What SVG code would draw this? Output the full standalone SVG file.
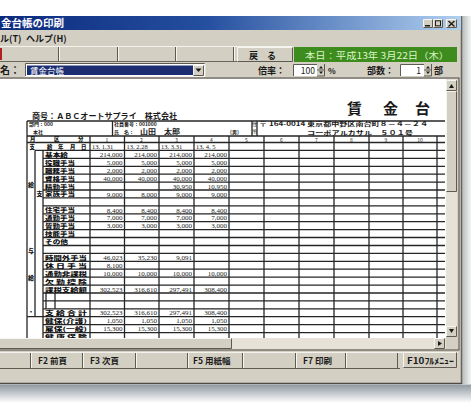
<svg xmlns="http://www.w3.org/2000/svg" width="471" height="403" viewBox="0 0 471 403">
<defs>
<linearGradient id="tbg" x1="0" y1="0" x2="1" y2="0">
<stop offset="0" stop-color="#0c2a7e"/><stop offset="0.45" stop-color="#254f9f"/><stop offset="1" stop-color="#b0d0f0"/>
</linearGradient>
<linearGradient id="shd" x1="0" y1="0" x2="0" y2="1">
<stop offset="0" stop-color="#8e98a0"/><stop offset="1" stop-color="#ffffff"/>
</linearGradient>
<linearGradient id="rsh" x1="0" y1="0" x2="1" y2="0">
<stop offset="0" stop-color="#b8bcbc"/><stop offset="1" stop-color="#f4f4f4"/>
</linearGradient>
<clipPath id="pv"><rect x="0" y="79" width="446" height="259"/></clipPath>
<style>
text{font-family:"Noto Sans CJK JP","Liberation Sans",sans-serif}
.btn{fill:#d3cfc3}
.hl{fill:none;stroke:#f7f5ef;stroke-width:1}
.dk{fill:none;stroke:#5e5a52;stroke-width:1}
.ui{font-size:9px;fill:#1a1a1a;font-weight:700}
.fk{font-size:8.5px;fill:#1a1a1a;font-weight:700}
.grid{fill:none;stroke:#262626;stroke-width:1.3}
.lbl{font-size:5.4px;font-weight:900;fill:#111}
.lc{font-size:6px;font-weight:900;fill:#111}
.num{font-family:"Liberation Serif","Noto Sans CJK JP",serif;font-size:7px;fill:#1a1a1a;text-anchor:end}
.dt{font-family:"Liberation Serif","Noto Sans CJK JP",serif;font-size:6.5px;fill:#1a1a1a}
.hd{font-size:5px;fill:#1a1a1a;text-anchor:middle}
.sm{font-size:5px;fill:#1a1a1a;font-weight:700}
.arr{fill:#1a1a1a}
</style>
</defs>

<rect x="0" y="0" width="471" height="403" fill="#ffffff"/>

<g id="window">
<rect x="-2" y="16" width="463" height="368" fill="#d3cfc3"/>
<rect x="462" y="16" width="9" height="368" fill="url(#rsh)"/>
<line x1="461.5" y1="16" x2="461.5" y2="384" stroke="#6a665e" stroke-width="1.5"/>
<line x1="-2" y1="383.5" x2="462" y2="383.5" stroke="#4e4a44" stroke-width="1.5"/>
<rect x="0" y="384.5" width="471" height="18.5" fill="url(#shd)"/>
</g>

<g id="titlebar">
<rect x="-2" y="16" width="463" height="14" fill="url(#tbg)"/>
<text x="1" y="27" font-size="10.5" font-weight="700" fill="#ffffff">金台帳の印刷</text>
<rect x="423" y="19" width="10" height="9" class="btn"/>
<path class="hl" d="M423.5 27.5V19.5H432.5"/><path class="dk" d="M423.5 27.5H432.5V19.5"/>
<rect x="425" y="25" width="5" height="1.5" class="arr"/>
<rect x="433" y="19" width="10" height="9" class="btn"/>
<path class="hl" d="M433.5 27.5V19.5H442.5"/><path class="dk" d="M433.5 27.5H442.5V19.5"/>
<rect x="435.5" y="20.8" width="5" height="5" fill="none" stroke="#1a1a1a" stroke-width="1"/>
<rect x="446" y="19" width="11" height="9" class="btn"/>
<path class="hl" d="M446.5 27.5V19.5H456.5"/><path class="dk" d="M446.5 27.5H456.5V19.5"/>
<path d="M448.5 21L454.5 26.5M454.5 21L448.5 26.5" stroke="#1a1a1a" stroke-width="1.4"/>
</g>

<g id="menubar">
<text x="0" y="42" class="ui" font-weight="400">ル(T)</text>
<text x="26" y="42" class="ui" font-weight="400">ヘルプ(H)</text>
</g>

<g id="toolbar">
<line x1="-2" y1="46.5" x2="293" y2="46.5" stroke="#f4f2ec"/>
<line x1="-2" y1="61.5" x2="293" y2="61.5" stroke="#6a665e"/>
<rect x="0" y="48" width="2" height="12" fill="#b0201c"/>
<path class="dk" d="M58.5 47V61M117.5 47V61M175.5 47V61M233.5 47V61"/>
<path class="hl" d="M59.5 47V61M118.5 47V61M176.5 47V61M234.5 47V61"/>
<rect x="237" y="47" width="56" height="15" class="btn"/>
<path class="hl" d="M237.5 61.5V47.5H292.5"/><path class="dk" d="M237.5 61.5H292.5V47.5"/>
<text x="249" y="58.5" class="ui">戻　る</text>
<rect x="294" y="47" width="163" height="15" fill="#3e8c1e"/>
<text x="305" y="58.5" font-size="9" fill="#dcf6c6" textLength="144" lengthAdjust="spacingAndGlyphs">本日：平成13年 3月22日（木）</text>
</g>

<g id="options">
<text x="0" y="74" font-size="10" font-weight="700" fill="#1a1a1a">名：</text>
<rect x="25" y="63.5" width="180" height="13" fill="#ffffff"/>
<path class="dk" d="M25.5 76V63.5H205"/><path class="hl" d="M25.5 76.5H205V63.5"/>
<rect x="27" y="65.5" width="166" height="9.5" fill="#1c2d72"/>
<text x="30" y="73.5" font-size="8.5" fill="#ffffff">賃金台帳</text>
<rect x="193" y="65" width="11" height="10.5" class="btn"/>
<path class="hl" d="M193.5 75V65.5H203.5"/><path class="dk" d="M193.5 75.5H203.5V65.5"/>
<path d="M195.5 68.5H201.5L198.5 72Z" class="arr"/>

<text x="258" y="74" class="ui">倍率：</text>
<rect x="293" y="64" width="24" height="12" fill="#ffffff"/>
<path class="dk" d="M293.5 76V64.5H317"/>
<text x="315" y="73.5" font-size="8.5" fill="#1a1a1a" text-anchor="end">100</text>
<rect x="317" y="64" width="8" height="12" class="btn"/>
<path class="dk" d="M317 70H325M324.5 64V76H317"/>
<path d="M319 68.5H323L321 66Z M319 71.5H323L321 74Z" class="arr"/>
<text x="328" y="74" font-size="8" font-weight="700" fill="#1a1a1a">%</text>

<text x="367" y="74" class="ui">部数：</text>
<rect x="400" y="64" width="24" height="12" fill="#ffffff"/>
<path class="dk" d="M400.5 76V64.5H424"/>
<text x="421" y="73.5" font-size="8.5" fill="#1a1a1a" text-anchor="end">1</text>
<rect x="424" y="64" width="8" height="12" class="btn"/>
<path class="dk" d="M424 70H432M431.5 64V76H424"/>
<path d="M426 68.5H430L428 66Z M426 71.5H430L428 74Z" class="arr"/>
<text x="434" y="74" class="ui">部</text>
</g>

<g id="preview">
<rect x="-2" y="78" width="461" height="272" fill="none" stroke="#4e4a44" stroke-width="1"/>
<rect x="0" y="79" width="446" height="259" fill="#ffffff"/>

<g id="page" clip-path="url(#pv)">
<text x="347" y="114" font-size="15" font-weight="700" fill="#1a1a1a">賃</text>
<text x="383" y="114" font-size="15" font-weight="700" fill="#1a1a1a">金</text>
<text x="415" y="114" font-size="15" font-weight="700" fill="#1a1a1a">台</text>
<text x="32" y="119" font-size="8" font-weight="700" fill="#1a1a1a" textLength="145" lengthAdjust="spacingAndGlyphs">商号：ＡＢＣオートサプライ　株式会社</text>

<g id="grid">
<path class="grid" stroke-width="1.6" d="M27 121H445"/>
<path class="grid" d="M27 136H445M27 142.5H445M35 150.4H445M27 316.7H445"/>
<path class="grid" d="M43 158.3H445M43 166.3H445M43 174.2H445M43 182.1H445M43 190H445M43 197.9H445M43 205.9H445M43 213.8H445M43 221.7H445M43 229.6H445M43 237.5H445M43 245.5H445M43 253.4H445M43 261.3H445M43 269.2H445M43 277.1H445M43 285.1H445M43 293H445M43 300.9H445M43 308.8H445M43 324.7H445M43 332.6H445"/>
<path class="grid" d="M27 121V340M35 150.4V316.7M43 150.4V340M112.5 121V136M252 121V136M257 121V136"/>
<path class="grid" d="M90 136V340M124.5 136V340M159 136V340M194 136V340M229 136V340M264 136V340M299 136V340M334 136V340M369 136V340M403 136V340M437 136V340"/>
<path class="grid" stroke-width="0.8" d="M46 293V308.8M55 293V308.8"/>
</g>

<g id="header">
<text x="29" y="126" class="sm">部門：000</text>
<text x="33" y="133.5" class="sm">本社</text>
<text x="114" y="126" class="sm">社員番号：001000</text>
<text x="114" y="133.5" class="sm">氏　名：</text>
<text x="140" y="134" font-size="6.5" font-weight="700" fill="#1a1a1a" textLength="40" lengthAdjust="spacingAndGlyphs">山田　太郎</text>
<text x="230" y="133.5" class="sm">(男)</text>
<text x="254.5" y="126.3" class="hd" font-size="4.5">住</text>
<text x="254.5" y="133.2" class="hd" font-size="4.5">所</text>
<text x="259" y="126" font-size="5.5" font-weight="700" fill="#1a1a1a" textLength="169" lengthAdjust="spacingAndGlyphs">〒 164-0014 東京都中野区南台町８－４－２４</text>
<text x="307" y="135" font-size="6" font-weight="700" fill="#1a1a1a" textLength="106" lengthAdjust="spacingAndGlyphs">コーポアルカサル　５０１号</text>
<text x="30" y="141.2" class="lbl">月</text>
<text x="54" y="141.2" class="lbl">区</text>
<text x="78" y="141.2" class="lbl">分</text>
<text x="107" y="142" class="hd">1</text>
<text x="141.5" y="142" class="hd">2</text>
<text x="176.5" y="142" class="hd">3</text>
<text x="211.5" y="142" class="hd">4</text>
<text x="246.5" y="142" class="hd">5</text>
<text x="281.5" y="142" class="hd">6</text>
<text x="316.5" y="142" class="hd">7</text>
<text x="351.5" y="142" class="hd">8</text>
<text x="386" y="142" class="hd">9</text>
<text x="420" y="142" class="hd">10</text>
</g>

<g id="labels">
<text x="29.5" y="149.1" class="lbl">支</text>
<text x="47" y="149.1" class="lbl">給</text>
<text x="58" y="149.1" class="lbl">年</text>
<text x="70" y="149.1" class="lbl">月</text>
<text x="81" y="149.1" class="lbl">日</text>
<text x="28" y="187" class="lc">給</text>
<text x="36.5" y="196" class="lc">支</text>
<text x="28" y="253" class="lc">与</text>
<text x="28" y="280" class="lc">給</text>
<text x="28" y="314" class="lc">・</text>
<text x="45" y="156.8" class="lbl" textLength="23" lengthAdjust="spacingAndGlyphs">基本給</text>
<text x="45" y="164.7" class="lbl" textLength="30" lengthAdjust="spacingAndGlyphs">役職手当</text>
<text x="45" y="172.7" class="lbl" textLength="30" lengthAdjust="spacingAndGlyphs">職務手当</text>
<text x="45" y="180.6" class="lbl" textLength="30" lengthAdjust="spacingAndGlyphs">資格手当</text>
<text x="45" y="188.5" class="lbl" textLength="30" lengthAdjust="spacingAndGlyphs">精勤手当</text>
<text x="45" y="196.4" class="lbl" textLength="30" lengthAdjust="spacingAndGlyphs">家族手当</text>
<text x="45" y="212.3" class="lbl" textLength="30" lengthAdjust="spacingAndGlyphs">住宅手当</text>
<text x="45" y="220.2" class="lbl" textLength="30" lengthAdjust="spacingAndGlyphs">通勤手当</text>
<text x="45" y="228.1" class="lbl" textLength="30" lengthAdjust="spacingAndGlyphs">皆勤手当</text>
<text x="45" y="236" class="lbl" textLength="30" lengthAdjust="spacingAndGlyphs">技能手当</text>
<text x="45" y="243.9" class="lbl" textLength="23" lengthAdjust="spacingAndGlyphs">その他</text>
<text x="45" y="259.8" class="lbl" textLength="42" lengthAdjust="spacingAndGlyphs">時間外手当</text>
<text x="45" y="267.7" class="lbl" textLength="42" lengthAdjust="spacingAndGlyphs">休 日 手 当</text>
<text x="45" y="275.6" class="lbl" textLength="42" lengthAdjust="spacingAndGlyphs">通勤非課税</text>
<text x="45" y="283.5" class="lbl" textLength="42" lengthAdjust="spacingAndGlyphs">欠 勤 控 除</text>
<text x="45" y="291.5" class="lbl" textLength="42" lengthAdjust="spacingAndGlyphs">課税支給額</text>
<text x="45" y="315.2" class="lbl" textLength="42" lengthAdjust="spacingAndGlyphs">支 給 合 計</text>
<text x="45" y="323.1" class="lbl" textLength="42" lengthAdjust="spacingAndGlyphs">健保(介護)</text>
<text x="45" y="331.1" class="lbl" textLength="42" lengthAdjust="spacingAndGlyphs">雇保(一般)</text>
<text x="45" y="339" class="lbl" textLength="42" lengthAdjust="spacingAndGlyphs">健 康 保 険</text>
</g>

<g id="values">
<text x="92" y="148.8" class="dt">13. 1.31</text>
<text x="126.5" y="148.8" class="dt">13. 2.28</text>
<text x="161" y="148.8" class="dt">13. 3.31</text>
<text x="196" y="148.8" class="dt">13. 4. 5</text>

<text x="122.5" y="157" class="num">214,000</text><text x="157" y="157" class="num">214,000</text><text x="192" y="157" class="num">214,000</text><text x="227" y="157" class="num">214,000</text>
<text x="122.5" y="164.9" class="num">5,000</text><text x="157" y="164.9" class="num">5,000</text><text x="192" y="164.9" class="num">5,000</text><text x="227" y="164.9" class="num">5,000</text>
<text x="122.5" y="172.9" class="num">2,000</text><text x="157" y="172.9" class="num">2,000</text><text x="192" y="172.9" class="num">2,000</text><text x="227" y="172.9" class="num">2,000</text>
<text x="122.5" y="180.8" class="num">40,000</text><text x="157" y="180.8" class="num">40,000</text><text x="192" y="180.8" class="num">40,000</text><text x="227" y="180.8" class="num">40,000</text>
<text x="192" y="188.7" class="num">30,950</text><text x="227" y="188.7" class="num">10,950</text>
<text x="122.5" y="196.6" class="num">9,000</text><text x="157" y="196.6" class="num">8,000</text><text x="192" y="196.6" class="num">9,000</text><text x="227" y="196.6" class="num">9,000</text>
<text x="122.5" y="212.5" class="num">8,400</text><text x="157" y="212.5" class="num">8,400</text><text x="192" y="212.5" class="num">8,400</text><text x="227" y="212.5" class="num">8,400</text>
<text x="122.5" y="220.4" class="num">7,000</text><text x="157" y="220.4" class="num">7,000</text><text x="192" y="220.4" class="num">7,000</text><text x="227" y="220.4" class="num">7,000</text>
<text x="122.5" y="228.3" class="num">3,000</text><text x="157" y="228.3" class="num">3,000</text><text x="192" y="228.3" class="num">3,000</text><text x="227" y="228.3" class="num">3,000</text>
<text x="122.5" y="260" class="num">46,023</text><text x="157" y="260" class="num">35,230</text><text x="192" y="260" class="num">9,091</text>
<text x="122.5" y="267.9" class="num">8,100</text>
<text x="122.5" y="275.8" class="num">10,000</text><text x="157" y="275.8" class="num">10,000</text><text x="192" y="275.8" class="num">10,000</text><text x="227" y="275.8" class="num">10,000</text>
<text x="122.5" y="291.7" class="num">302,523</text><text x="157" y="291.7" class="num">316,610</text><text x="192" y="291.7" class="num">297,491</text><text x="227" y="291.7" class="num">308,400</text>
<text x="122.5" y="315.4" class="num">302,523</text><text x="157" y="315.4" class="num">316,610</text><text x="192" y="315.4" class="num">297,491</text><text x="227" y="315.4" class="num">308,400</text>
<text x="122.5" y="323.3" class="num">1,050</text><text x="157" y="323.3" class="num">1,050</text><text x="192" y="323.3" class="num">1,050</text><text x="227" y="323.3" class="num">1,050</text>
<text x="122.5" y="331.3" class="num">15,300</text><text x="157" y="331.3" class="num">15,300</text><text x="192" y="331.3" class="num">15,300</text><text x="227" y="331.3" class="num">15,300</text>
</g>
</g>

<g id="vscroll">
<rect x="446" y="79" width="11" height="259" fill="#e6e2d8"/>
<rect x="446" y="80" width="11" height="11" class="btn"/>
<path class="hl" d="M446.5 90.5V80.5H456.5"/><path class="dk" d="M446.5 90.5H456.5V80.5"/>
<path d="M449 88H454L451.5 84Z" class="arr"/>
<rect x="446" y="91" width="11" height="101" class="btn"/>
<path class="hl" d="M446.5 191.5V91.5H456.5"/><path class="dk" d="M446.5 191.5H456.5V91.5"/>
<rect x="446" y="326" width="11" height="11" class="btn"/>
<path class="hl" d="M446.5 336.5V326.5H456.5"/><path class="dk" d="M446.5 336.5H456.5V326.5"/>
<path d="M449 329H454L451.5 333Z" class="arr"/>
</g>

<g id="hscroll">
<rect x="0" y="338" width="446" height="11" fill="#e6e2d8"/>
<rect x="-2" y="338" width="234" height="11" class="btn"/>
<path class="hl" d="M-2 338.5H231.5"/><path class="dk" d="M-2 348.5H231.5V338.5"/>
<rect x="434" y="338" width="11" height="11" class="btn"/>
<path class="hl" d="M434.5 348.5V338.5H444.5"/><path class="dk" d="M434.5 348.5H444.5V338.5"/>
<path d="M438 341V346L442 343.5Z" class="arr"/>
<rect x="446" y="337" width="12" height="12" class="btn"/>
</g>
</g>

<g id="fkeys">
<line x1="-2" y1="352.5" x2="458" y2="352.5" stroke="#f4f2ec"/>
<line x1="-2" y1="368.5" x2="400" y2="368.5" stroke="#5e5a52"/>
<path class="dk" d="M30.5 353V368M82.5 353V368M135.5 353V368M187.5 353V368M242.5 353V368M295.5 353V368M345.5 353V368M397.5 353V368"/>
<path class="hl" d="M31.5 353V368M83.5 353V368M136.5 353V368M188.5 353V368M243.5 353V368M296.5 353V368M346.5 353V368"/>
<text x="38" y="364" class="fk">F2 前頁</text>
<text x="90" y="364" class="fk">F3 次頁</text>
<text x="193" y="364" class="fk">F5 用紙幅</text>
<text x="303" y="364" class="fk">F7 印刷</text>
<rect x="403" y="352" width="54" height="16" class="btn"/>
<path class="hl" d="M403.5 367.5V352.5H456.5"/><path class="dk" d="M403.5 367.5H456.5V352.5"/>
<text x="407" y="364" class="fk" textLength="47" lengthAdjust="spacingAndGlyphs">F10ﾌﾙﾒﾆｭｰ</text>
</g>
</svg>
